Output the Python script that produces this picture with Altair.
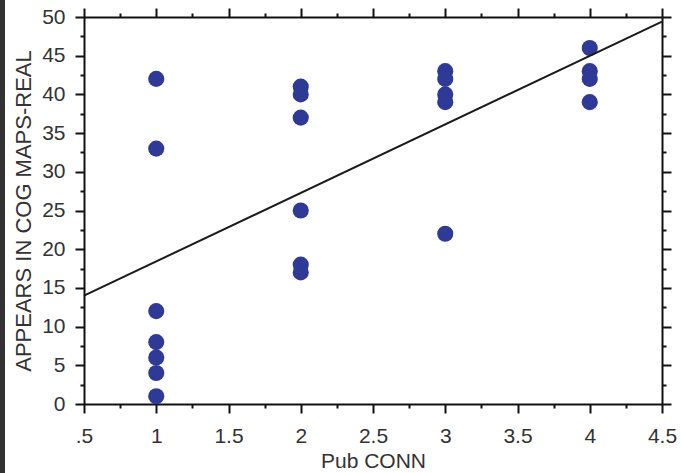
import altair as alt
import pandas as pd

# data
pub_conn = [1, 1, 1, 1, 1, 1, 1,
            2, 2, 2, 2, 2, 2,
            3, 3, 3, 3, 3,
            4, 4, 4, 4]
cog_maps = [42, 33, 12, 8, 6, 4, 1,
            41, 40, 37, 25, 18, 17,
            43, 42, 40, 39, 22,
            46, 43, 42, 39]
fit_x = [0.5, 4.5]
fit_y = [14.0, 49.4]
x_tick_values = [0.5, 0.75, 1.0, 1.25, 1.5, 1.75, 2.0, 2.25, 2.5, 2.75,
                 3.0, 3.25, 3.5, 3.75, 4.0, 4.25, 4.5]
y_tick_values = [0, 2.5, 5, 7.5, 10, 12.5, 15, 17.5, 20, 22.5, 25, 27.5,
                 30, 32.5, 35, 37.5, 40, 42.5, 45, 47.5, 50]

pts = pd.DataFrame({"x": pub_conn, "y": cog_maps})
fit = pd.DataFrame({"x": fit_x, "y": fit_y})

xscale = alt.Scale(domain=[0.5, 4.5], nice=False, zero=False)
yscale = alt.Scale(domain=[0, 50], nice=False, zero=False)

x_major = "(datum.value * 2) % 1 == 0"
y_major = "datum.value % 5 == 0"

FONT = "Liberation Sans"

common = dict(domainColor="#111", domainWidth=2, tickColor="#111", tickWidth=2,
              grid=False, labelFont=FONT, labelFontSize=21,
              labelColor="#333", titleFont=FONT,
              titleColor="#333", titleFontWeight="normal", labelOverlap=False,
              labelFlush=False)

x_bottom = alt.Axis(orient="bottom", values=x_tick_values,
                    tickSize={"condition": {"test": x_major, "value": 9}, "value": 4},
                    labelExpr="(datum.value * 2) % 1 != 0 ? '' : (datum.value == 0.5 ? '.5' : format(datum.value, '~g'))",
                    labelPadding=12, title="Pub CONN", titleFontSize=21, titlePadding=4, **common)
x_top = alt.Axis(orient="top", values=x_tick_values,
                 tickSize={"condition": {"test": x_major, "value": 9}, "value": 4},
                 labels=False, title=None, **common)
y_left = alt.Axis(orient="left", values=y_tick_values,
                  tickSize={"condition": {"test": y_major, "value": 9}, "value": 4},
                  labelExpr="datum.value % 5 == 0 ? format(datum.value, 'd') : ''",
                  labelPadding=10, title="APPEARS IN COG MAPS-REAL", titleFontSize=22,
                  titlePadding=6, **common)
y_right = alt.Axis(orient="right", values=y_tick_values,
                   tickSize={"condition": {"test": y_major, "value": 9}, "value": 4},
                   labels=False, title=None, **common)

points = alt.Chart(pts).mark_circle(size=260, opacity=1, color="#2f3996").encode(
    x=alt.X("x:Q", scale=xscale, axis=x_bottom),
    y=alt.Y("y:Q", scale=yscale, axis=y_left),
)

line = alt.Chart(fit).mark_line(color="#1a1a1a", strokeWidth=2).encode(
    x=alt.X("x:Q", scale=xscale, axis=x_top),
    y=alt.Y("y:Q", scale=yscale, axis=y_right),
)

edge = alt.Chart(pd.DataFrame({"k": [0]})).mark_rule(color="#333", strokeWidth=5).encode(
    x=alt.value(-81.5), y=alt.value(-17), y2=alt.value(456)
)

chart = alt.layer(points, line, edge).resolve_axis(
    x="independent", y="independent"
).properties(
    width=578, height=387,
    padding={"left": 84, "top": 17, "right": 19, "bottom": 69},
    autosize=alt.AutoSizeParams(type="none"),
    background="white",
).configure_view(stroke=None)

chart.save("out.html", embed_options={"renderer": "svg", "actions": False})
